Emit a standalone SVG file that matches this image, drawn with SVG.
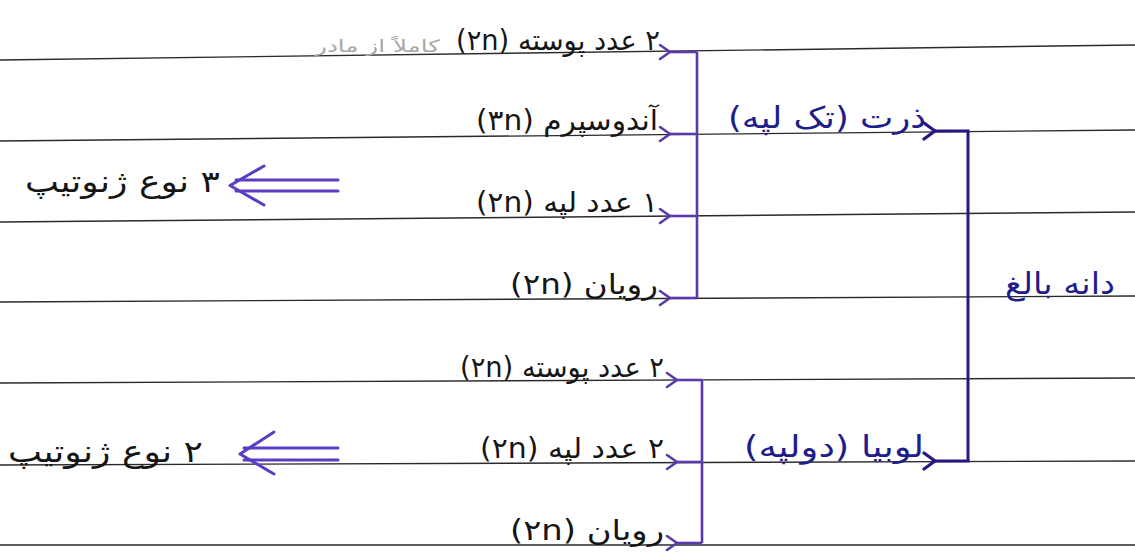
<svg xmlns="http://www.w3.org/2000/svg" width="1135" height="558" viewBox="0 0 1135 558">
  <defs>
    <marker id="chevP" viewBox="-2 -10 16 20" markerWidth="16" markerHeight="20" refX="0" refY="0" orient="auto" markerUnits="userSpaceOnUse">
      <path d="M10,-7 L0,0 L10,7" fill="none" stroke="#5a3aa8" stroke-width="2.6" stroke-linecap="round" stroke-linejoin="round"/>
    </marker>
    <marker id="chevD" viewBox="-2 -10 16 20" markerWidth="16" markerHeight="20" refX="0" refY="0" orient="auto" markerUnits="userSpaceOnUse">
      <path d="M11,-8 L0,0 L11,8" fill="none" stroke="#2a1680" stroke-width="3.2" stroke-linecap="round" stroke-linejoin="round"/>
    </marker>
  </defs>
  <style>
    .paper line { stroke: #2a2a2a; stroke-width: 1.4; }
    .ink { font-family: "DejaVu Sans", "Noto Sans", sans-serif; font-size: 28px; fill: #151515; text-anchor: start; direction: rtl; unicode-bidi: embed; }
    .big { font-size: 30px; }
    .blue { fill: #1e1e8a; }
    .faint { font-family: "DejaVu Sans", sans-serif; font-size: 17px; fill: #a8a8a8; text-anchor: start; direction: rtl; unicode-bidi: embed; }
    .bracket { fill: none; stroke: #5a3aa8; stroke-width: 2.6; }
    .stub { stroke: #5a3aa8; stroke-width: 2.6; marker-end: url(#chevP); }
    .main { fill: none; stroke: #2a1680; stroke-width: 3; }
    .mainstub { stroke: #2a1680; stroke-width: 3; marker-end: url(#chevD); }
    .dbl { stroke: #5b3cc4; stroke-width: 3; fill: none; stroke-linecap: round; stroke-linejoin: round; }
  </style>
  <rect width="1135" height="558" fill="#ffffff"/>
  <g class="paper" id="paper">
    <line x1="0" y1="60" x2="1135" y2="45"/>
    <line x1="0" y1="141" x2="1135" y2="130"/>
    <line x1="0" y1="222" x2="1135" y2="212"/>
    <line x1="0" y1="302" x2="1135" y2="296"/>
    <line x1="0" y1="383" x2="1135" y2="378"/>
    <line x1="0" y1="465" x2="1135" y2="461"/>
    <line x1="0" y1="545" x2="1135" y2="545"/>
  </g>
  <g id="connectors">
    <path class="bracket" d="M697,52 V298"/>
    <line class="stub" x1="697" y1="52" x2="670" y2="52"/>
    <line class="stub" x1="697" y1="134" x2="670" y2="134"/>
    <line class="stub" x1="697" y1="216" x2="670" y2="216"/>
    <line class="stub" x1="697" y1="298" x2="670" y2="298"/>
    <path class="bracket" d="M702,380 V543"/>
    <line class="stub" x1="702" y1="380" x2="677" y2="380"/>
    <line class="stub" x1="702" y1="462" x2="677" y2="462"/>
    <line class="stub" x1="702" y1="543" x2="677" y2="543"/>
    <path class="main" d="M968,131 V461"/>
    <line class="mainstub" x1="969.5" y1="131" x2="935" y2="131"/>
    <line class="mainstub" x1="969.5" y1="461" x2="935" y2="461"/>
    <g id="arrow-3">
      <line class="dbl" x1="236" y1="180" x2="338" y2="180"/>
      <line class="dbl" x1="236" y1="191" x2="338" y2="191"/>
      <path class="dbl" d="M264,166 L230,185.5 L264,205"/>
    </g>
    <g id="arrow-2">
      <line class="dbl" x1="244" y1="448" x2="338" y2="448"/>
      <line class="dbl" x1="244" y1="460" x2="338" y2="460"/>
      <path class="dbl" d="M274,432 L240,454 L274,474"/>
    </g>
  </g>
  <g id="n-seed"><text class="ink big blue" x="1115" y="294" textLength="110" lengthAdjust="spacingAndGlyphs">دانه بالغ</text></g>
  <g id="n-corn"><text class="ink big blue" x="926" y="128" textLength="198" lengthAdjust="spacingAndGlyphs">ذرت (تک لپه)</text></g>
  <g id="n-bean"><text class="ink big blue" x="924" y="457" textLength="180" lengthAdjust="spacingAndGlyphs">لوبیا (دولپه)</text></g>
  <g id="n-corn-coat">
    <text class="ink" x="660" y="50" textLength="204" lengthAdjust="spacingAndGlyphs">۲ عدد پوسته (۲n)</text>
    <text class="faint" x="440" y="52" textLength="125" lengthAdjust="spacingAndGlyphs">کاملاً از مادر</text>
  </g>
  <g id="n-corn-endo"><text class="ink" x="658" y="130" textLength="182" lengthAdjust="spacingAndGlyphs">آندوسپرم (۳n)</text></g>
  <g id="n-corn-cot"><text class="ink" x="658" y="212" textLength="182" lengthAdjust="spacingAndGlyphs">۱ عدد لپه (۲n)</text></g>
  <g id="n-corn-emb"><text class="ink" x="658" y="294" textLength="148" lengthAdjust="spacingAndGlyphs">رویان (۲n)</text></g>
  <g id="n-corn-geno"><text class="ink big" x="220" y="192" textLength="195" lengthAdjust="spacingAndGlyphs">۳ نوع ژنوتیپ</text></g>
  <g id="n-bean-coat"><text class="ink" x="664" y="377" textLength="204" lengthAdjust="spacingAndGlyphs">۲ عدد پوسته (۲n)</text></g>
  <g id="n-bean-cot"><text class="ink" x="664" y="458" textLength="184" lengthAdjust="spacingAndGlyphs">۲ عدد لپه (۲n)</text></g>
  <g id="n-bean-emb"><text class="ink" x="664" y="540" textLength="154" lengthAdjust="spacingAndGlyphs">رویان (۲n)</text></g>
  <g id="n-bean-geno"><text class="ink big" x="203" y="462" textLength="195" lengthAdjust="spacingAndGlyphs">۲ نوع ژنوتیپ</text></g>
</svg>
